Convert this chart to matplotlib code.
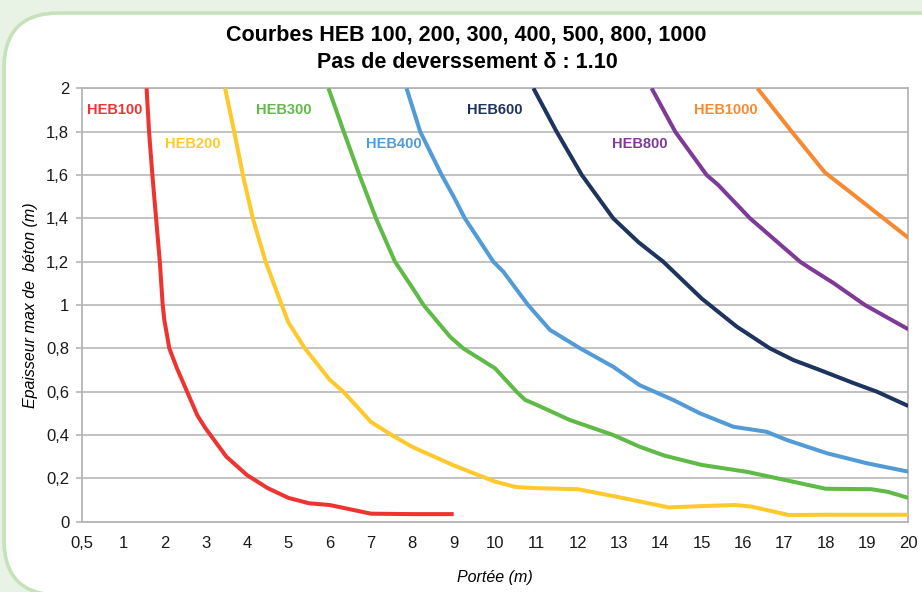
import matplotlib
matplotlib.use("Agg")
import matplotlib.pyplot as plt
from matplotlib.patches import FancyBboxPatch
from matplotlib.transforms import IdentityTransform

plt.rcParams['font.family'] = ['Liberation Sans', 'DejaVu Sans']

# x positions: category index (position 0 = "0,5", position k = k metres)
tick_labels = ["0,5"] + [str(i) for i in range(1, 21)]
ytick_vals = [0, 0.2, 0.4, 0.6, 0.8, 1.0, 1.2, 1.4, 1.6, 1.8, 2.0]
ytick_labels = ["0", "0,2", "0,4", "0,6", "0,8", "1", "1,2", "1,4", "1,6", "1,8", "2"]

heb100_x = [1.57, 1.63, 1.71, 1.80, 1.89, 1.96, 2.0, 2.12, 2.3, 2.55, 2.8, 3.0, 3.5, 4.0, 4.5, 5.0, 5.5, 6.0, 7.0, 8.0, 9.0]
heb100_y = [2.0, 1.8, 1.6, 1.4, 1.2, 1.0, 0.93, 0.80, 0.71, 0.60, 0.49, 0.43, 0.30, 0.215, 0.155, 0.11, 0.085, 0.077, 0.037, 0.035, 0.035]

heb200_x = [3.47, 3.69, 3.90, 4.14, 4.45, 4.84, 5.0, 5.40, 6.0, 6.33, 7.0, 7.5, 8.0, 9.0, 10.0, 10.5, 11.0, 12.0, 13.0, 14.2, 15.0, 15.8, 16.2, 17.1, 18.0, 19.0, 20.0]
heb200_y = [2.0, 1.8, 1.6, 1.4, 1.2, 1.0, 0.92, 0.80, 0.655, 0.60, 0.46, 0.40, 0.345, 0.26, 0.185, 0.16, 0.155, 0.15, 0.113, 0.066, 0.072, 0.077, 0.07, 0.031, 0.032, 0.032, 0.032]

heb300_x = [5.97, 6.34, 6.72, 7.12, 7.58, 8.0, 8.27, 8.91, 9.23, 10.0, 10.52, 10.73, 11.0, 11.8, 12.86, 13.5, 14.1, 15.0, 16.1, 17.2, 18.0, 19.1, 19.5, 20.0]
heb300_y = [2.0, 1.8, 1.6, 1.4, 1.2, 1.08, 1.0, 0.854, 0.8, 0.708, 0.6, 0.562, 0.54, 0.47, 0.40, 0.346, 0.305, 0.262, 0.23, 0.185, 0.152, 0.15, 0.138, 0.11]

heb400_x = [7.86, 8.19, 8.71, 9.0, 9.27, 9.96, 10.2, 10.8, 11.33, 12.06, 12.86, 13.5, 14.31, 14.96, 15.77, 16.57, 17.06, 18.03, 18.99, 20.0]
heb400_y = [2.0, 1.8, 1.6, 1.5, 1.4, 1.2, 1.154, 1.0, 0.885, 0.8, 0.715, 0.63, 0.562, 0.50, 0.438, 0.415, 0.377, 0.316, 0.27, 0.231]

heb600_x = [10.93, 11.49, 12.10, 12.86, 13.47, 14.07, 15.0, 15.85, 16.65, 17.22, 17.86, 18.67, 19.24, 20.0]
heb600_y = [2.0, 1.8, 1.6, 1.4, 1.29, 1.2, 1.03, 0.90, 0.80, 0.746, 0.70, 0.64, 0.60, 0.534]

heb800_x = [13.79, 14.36, 15.12, 15.40, 16.17, 17.38, 17.62, 18.2, 18.95, 20.0]
heb800_y = [2.0, 1.8, 1.6, 1.554, 1.4, 1.2, 1.17, 1.10, 1.0, 0.888]

heb1000_x = [16.35, 17.18, 17.98, 18.7, 19.48, 20.0]
heb1000_y = [2.0, 1.8, 1.612, 1.505, 1.388, 1.31]

series = [
    ("HEB100", heb100_x, heb100_y, "#ee3430", (0.81, 1.90)),
    ("HEB200", heb200_x, heb200_y, "#fdc92c", (2.69, 1.743)),
    ("HEB300", heb300_x, heb300_y, "#5fba47", (4.90, 1.90)),
    ("HEB400", heb400_x, heb400_y, "#529bd6", (7.56, 1.743)),
    ("HEB600", heb600_x, heb600_y, "#1e335e", (9.99, 1.90)),
    ("HEB800", heb800_x, heb800_y, "#7d3a97", (13.51, 1.743)),
    ("HEB1000", heb1000_x, heb1000_y, "#f58a32", (15.58, 1.90)),
]

fig = plt.figure(figsize=(9.22, 5.92), dpi=100)
fig.patch.set_facecolor("#e9f3e5")

panel = FancyBboxPatch((4, -3), 1000, 582, boxstyle="round,pad=0,rounding_size=55",
                       transform=IdentityTransform(), facecolor="white",
                       edgecolor="#c6e2ba", linewidth=2.6, zorder=0)
fig.add_artist(panel)

ax = fig.add_axes([81.7 / 922, 70.3 / 592, (908.3 - 81.7) / 922, (521.7 - 88.3) / 592])
ax.set_facecolor("white")

for name, xs, ys, col, (lx, ly) in series:
    ax.plot(xs, ys, color=col, lw=2.9, solid_capstyle="butt", solid_joinstyle="round",
            zorder=3, clip_on=True)
    ax.text(lx, ly, name, color=col, fontsize=10.5, fontweight="bold",
            ha="center", va="center", zorder=4)

ax.set_xlim(0, 20)
ax.set_ylim(0, 2)
ax.set_xticks(range(21))
ax.set_xticklabels(tick_labels)
ax.set_yticks(ytick_vals)
ax.set_yticklabels(ytick_labels)
ax.tick_params(axis="x", length=0, pad=10, labelsize=12, colors="#1a1a1a")
ax.tick_params(axis="y", length=4, width=1.2, pad=5, labelsize=12, colors="#1a1a1a", color="#b5b5b5")
ax.grid(axis="y", color="#bdbdbd", lw=1.3, zorder=1)
for s in ax.spines.values():
    s.set_color("#b5b5b5")
    s.set_linewidth(1.3)

ax.set_xlabel("Portée (m)", fontsize=11.5, style="italic", labelpad=14)
ax.set_ylabel("Epaisseur max de  béton (m)", fontsize=11.5, style="italic", labelpad=6)

fig.text(0.5054, 1 - 35 / 592, "Courbes HEB 100, 200, 300, 400, 500, 800, 1000",
         ha="center", va="center", fontsize=15.5, fontweight="bold")
fig.text(0.5065, 1 - 62 / 592, "Pas de deverssement δ : 1.10",
         ha="center", va="center", fontsize=15.5, fontweight="bold")

fig.savefig("out.png", dpi=100, facecolor=fig.get_facecolor())
